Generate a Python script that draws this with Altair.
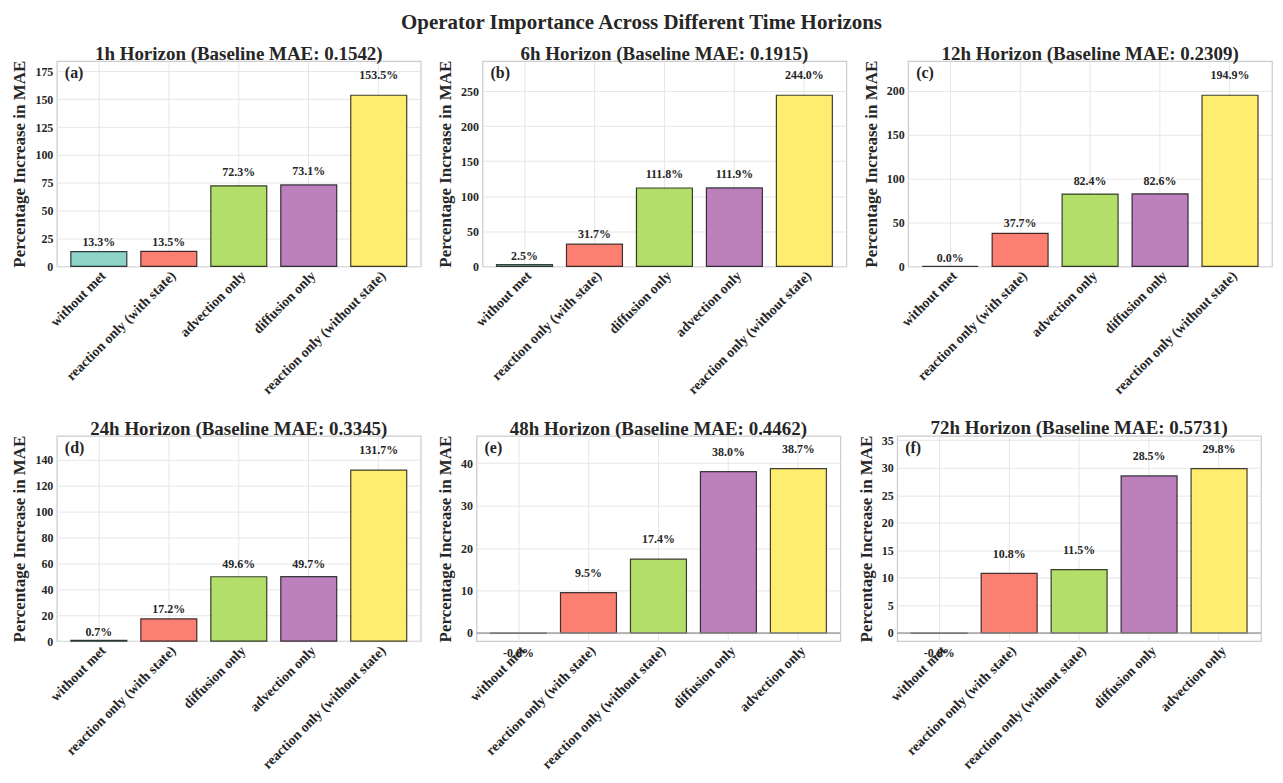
import altair as alt
import pandas as pd

FONT = "Liberation Serif"
TXT = "#262626"
COLORS = ["#8dd3c7", "#fb8072", "#b3de69", "#bc80bd", "#ffed6f"]

main_title = "Operator Importance Across Different Time Horizons"

titles = [
    "1h Horizon (Baseline MAE: 0.1542)",
    "6h Horizon (Baseline MAE: 0.1915)",
    "12h Horizon (Baseline MAE: 0.2309)",
    "24h Horizon (Baseline MAE: 0.3345)",
    "48h Horizon (Baseline MAE: 0.4462)",
    "72h Horizon (Baseline MAE: 0.5731)",
]
letters = ["(a)", "(b)", "(c)", "(d)", "(e)", "(f)"]

cats_1h = ["without met", "reaction only (with state)", "advection only", "diffusion only", "reaction only (without state)"]
vals_1h = [13.3, 13.5, 72.3, 73.1, 153.5]
cats_6h = ["without met", "reaction only (with state)", "diffusion only", "advection only", "reaction only (without state)"]
vals_6h = [2.5, 31.7, 111.8, 111.9, 244.0]
cats_12h = ["without met", "reaction only (with state)", "advection only", "diffusion only", "reaction only (without state)"]
vals_12h = [0.0, 37.7, 82.4, 82.6, 194.9]
cats_24h = ["without met", "reaction only (with state)", "diffusion only", "advection only", "reaction only (without state)"]
vals_24h = [0.7, 17.2, 49.6, 49.7, 131.7]
cats_48h = ["without met", "reaction only (with state)", "reaction only (without state)", "diffusion only", "advection only"]
vals_48h = [-0.04, 9.5, 17.4, 38.0, 38.7]
cats_72h = ["without met", "reaction only (with state)", "reaction only (without state)", "diffusion only", "advection only"]
vals_72h = [-0.04, 10.8, 11.5, 28.5, 29.8]

ticks_1h = [0, 25, 50, 75, 100, 125, 150, 175]
ticks_6h = [0, 50, 100, 150, 200, 250]
ticks_12h = [0, 50, 100, 150, 200]
ticks_24h = [0, 20, 40, 60, 80, 100, 120, 140]
ticks_48h = [0, 10, 20, 30, 40]
ticks_72h = [0, 5, 10, 15, 20, 25, 30, 35]

W, H = 365, 206
YTITLE = "Percentage Increase in MAE"


def panel(title, letter, cats, vals, ticks, late):
    m = max(vals)
    lo = -0.05 * m if min(vals) < 0 else 0
    hi = 1.2 * m
    df = pd.DataFrame({
        "op": cats,
        "val": vals,
        "pos": list(range(len(cats))),
        "lab": [f"{v:.1f}%" for v in vals],
    })
    base = alt.Chart(df)
    xaxis = alt.Axis(labelAngle=-45, labelAlign="right", labelBaseline="top",
                     labelFontSize=14, labelFontWeight="bold", labelPadding=2,
                     bandPosition=0.5, labelLimit=400)
    xscale = alt.Scale(paddingInner=0.2, paddingOuter=0.2)
    x = alt.X("op:N", sort=cats, title=None, scale=xscale, axis=xaxis)
    yscale = alt.Scale(domain=[lo, hi], nice=False, zero=False)
    yaxis = alt.Axis(values=ticks, labelFontSize=12, labelFontWeight="bold",
                     titleFontSize=17, titleFontWeight="bold", labelPadding=4,
                     titlePadding=6)
    bars = base.mark_bar(stroke="black", strokeOpacity=0.75, strokeWidth=1.2).encode(
        x=x,
        y=alt.Y("val:Q", title=YTITLE, scale=yscale, axis=yaxis),
        color=alt.Color("pos:O", scale=alt.Scale(domain=[0, 1, 2, 3, 4], range=COLORS), legend=None),
    )
    if late:
        expr = f"datum.val >= 0 ? datum.val + 0.12*{m} : datum.val - 0.12*{m}"
    else:
        expr = f"datum.val + 0.048*{m} + 0.07*datum.val"
    labels = base.transform_calculate(ly=expr).mark_text(
        font=FONT, fontSize=12, fontWeight="bold", color=TXT, baseline="middle"
    ).encode(
        x=x,
        y=alt.Y("ly:Q", title=YTITLE, scale=yscale, axis=yaxis),
        text="lab:N",
    )
    let = alt.Chart(pd.DataFrame({"t": [letter]})).mark_text(
        font=FONT, fontSize=16, fontWeight="bold", color=TXT, align="left", baseline="middle"
    ).encode(x=alt.value(8), y=alt.value(12), text="t:N")
    layers = [bars, labels, let]
    if late:
        rule = alt.Chart(pd.DataFrame({"z": [0]})).mark_rule(
            color="#8c8c8c", strokeWidth=1.5, opacity=0.8
        ).encode(y=alt.Y("z:Q", title=YTITLE, scale=yscale, axis=yaxis))
        layers.insert(1, rule)
    return alt.layer(*layers).properties(
        width=W, height=H,
        title=alt.TitleParams(title, font=FONT, fontSize=19, fontWeight="bold",
                              color=TXT, offset=-4),
    )


p = [
    panel(titles[0], letters[0], cats_1h, vals_1h, ticks_1h, False),
    panel(titles[1], letters[1], cats_6h, vals_6h, ticks_6h, False),
    panel(titles[2], letters[2], cats_12h, vals_12h, ticks_12h, False),
    panel(titles[3], letters[3], cats_24h, vals_24h, ticks_24h, False),
    panel(titles[4], letters[4], cats_48h, vals_48h, ticks_48h, True),
    panel(titles[5], letters[5], cats_72h, vals_72h, ticks_72h, True),
]

row1 = alt.hconcat(p[0], p[1], p[2], spacing=14)
row2 = alt.hconcat(p[3], p[4], p[5], spacing=14)

chart = alt.vconcat(row1, row2, spacing=20).properties(
    title=alt.TitleParams(main_title, font=FONT, fontSize=21, fontWeight="bold",
                          color=TXT, anchor="middle", offset=12),
    padding={"left": 2, "top": 2, "right": 2, "bottom": 2},
).configure_view(
    stroke="#cccccc", strokeWidth=1.25
).configure_axis(
    grid=True, gridColor="#e6e6e6", gridWidth=1, domain=False, ticks=False,
    labelFont=FONT, titleFont=FONT, labelColor=TXT, titleColor=TXT,
)

chart.save("out.html", embed_options={"renderer": "svg", "actions": False})
